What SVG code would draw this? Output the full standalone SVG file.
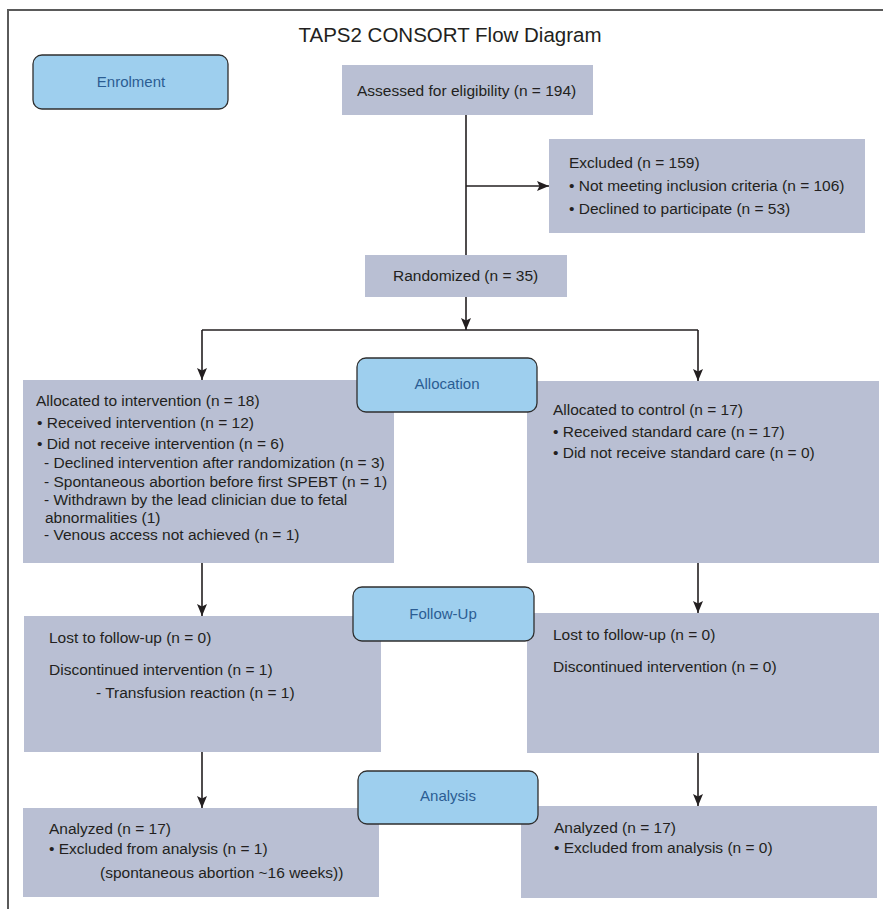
<svg xmlns="http://www.w3.org/2000/svg" width="883" height="909" viewBox="0 0 883 909">
<defs>
<style>
.box{fill:#b9bfd3;stroke:none}
.stage{fill:#9ecfee;stroke:#2f2f2f;stroke-width:1.3}
.t{font-family:"Liberation Sans",Arial,sans-serif;font-size:15.5px;fill:#231f20}
.st{font-family:"Liberation Sans",Arial,sans-serif;font-size:15px;fill:#2b5d93;text-anchor:middle}
.title{font-family:"Liberation Sans",Arial,sans-serif;font-size:20.5px;fill:#231f20;text-anchor:middle}
.c{stroke:#231f20;stroke-width:1.6;fill:none}
.a{marker-end:url(#ah)}
</style>
<marker id="ah" markerUnits="userSpaceOnUse" markerWidth="13" markerHeight="11" refX="12" refY="5" orient="auto" viewBox="0 0 13 11">
<path d="M0,0 L12,5 L0,10 L2.5,5 z" fill="#231f20"/>
</marker>
</defs>
<rect x="0" y="0" width="883" height="909" fill="#ffffff"/>
<g id="frame">
<path d="M883,10 H8 V909" fill="none" stroke="#5a5a5a" stroke-width="2"/>
</g>
<text class="title" x="450" y="42">TAPS2 CONSORT Flow Diagram</text>

<g id="assessed">
<rect class="box" x="342" y="65" width="251" height="50"/>
<text class="t" x="357" y="96">Assessed for eligibility (n = 194)</text>
</g>
<g id="excluded">
<rect class="box" x="549" y="139" width="316" height="94"/>
<text class="t" x="569" y="168">Excluded (n = 159)</text>
<text class="t" x="569" y="191">• Not meeting inclusion criteria (n = 106)</text>
<text class="t" x="569" y="214">• Declined to participate (n = 53)</text>
</g>
<g id="randomized">
<rect class="box" x="365" y="255" width="202" height="42"/>
<text class="t" x="393" y="281">Randomized (n = 35)</text>
</g>
<g id="alloc-intervention">
<rect class="box" x="23" y="380" width="371" height="183"/>
<text class="t" x="36" y="406">Allocated to intervention (n = 18)</text>
<text class="t" x="37" y="428">• Received intervention (n = 12)</text>
<text class="t" x="37" y="449">• Did not receive intervention (n = 6)</text>
<text class="t" x="44" y="468">- Declined intervention after randomization (n = 3)</text>
<text class="t" x="44" y="487">- Spontaneous abortion before first SPEBT (n = 1)</text>
<text class="t" x="44" y="505">- Withdrawn by the lead clinician due to fetal</text>
<text class="t" x="45" y="523">abnormalities (1)</text>
<text class="t" x="44" y="540">- Venous access not achieved (n = 1)</text>
</g>
<g id="alloc-control">
<rect class="box" x="527" y="381" width="352" height="182"/>
<text class="t" x="553" y="415">Allocated to control (n = 17)</text>
<text class="t" x="553" y="437">• Received standard care (n = 17)</text>
<text class="t" x="553" y="458">• Did not receive standard care (n = 0)</text>
</g>
<g id="followup-intervention">
<rect class="box" x="24" y="616" width="357" height="136"/>
<text class="t" x="49" y="643">Lost to follow-up (n = 0)</text>
<text class="t" x="49" y="675">Discontinued intervention (n = 1)</text>
<text class="t" x="96" y="698">- Transfusion reaction (n = 1)</text>
</g>
<g id="followup-control">
<rect class="box" x="527" y="613" width="352" height="140"/>
<text class="t" x="553" y="640">Lost to follow-up (n = 0)</text>
<text class="t" x="553" y="672">Discontinued intervention (n = 0)</text>
</g>
<g id="analysis-intervention">
<rect class="box" x="23" y="808" width="356" height="89"/>
<text class="t" x="49" y="834">Analyzed (n = 17)</text>
<text class="t" x="49" y="854">• Excluded from analysis (n = 1)</text>
<text class="t" x="100" y="878">(spontaneous abortion ~16 weeks))</text>
</g>
<g id="analysis-control">
<rect class="box" x="521" y="806" width="356" height="92"/>
<text class="t" x="554" y="833">Analyzed (n = 17)</text>
<text class="t" x="554" y="853">• Excluded from analysis (n = 0)</text>
</g>

<g id="connectors">
<path class="c" d="M466,115 V255"/>
<path class="c a" d="M466,186 H549"/>
<path class="c a" d="M466,297 V330"/>
<path class="c" d="M202,330 H698"/>
<path class="c a" d="M202,330 V380"/>
<path class="c a" d="M698,330 V381"/>
<path class="c a" d="M202,563 V616"/>
<path class="c a" d="M698,563 V613"/>
<path class="c a" d="M202,752 V808"/>
<path class="c a" d="M698,753 V806"/>
</g>

<g id="enrolment">
<rect class="stage" x="33" y="55" width="195" height="54" rx="9"/>
<text class="st" x="131" y="87">Enrolment</text>
</g>
<g id="allocation">
<rect class="stage" x="357" y="358" width="180" height="54" rx="9"/>
<text class="st" x="447" y="389">Allocation</text>
</g>
<g id="followup">
<rect class="stage" x="353" y="587" width="181" height="54" rx="9"/>
<text class="st" x="443" y="619">Follow-Up</text>
</g>
<g id="analysis">
<rect class="stage" x="358" y="771" width="180" height="53" rx="9"/>
<text class="st" x="448" y="801">Analysis</text>
</g>
</svg>
